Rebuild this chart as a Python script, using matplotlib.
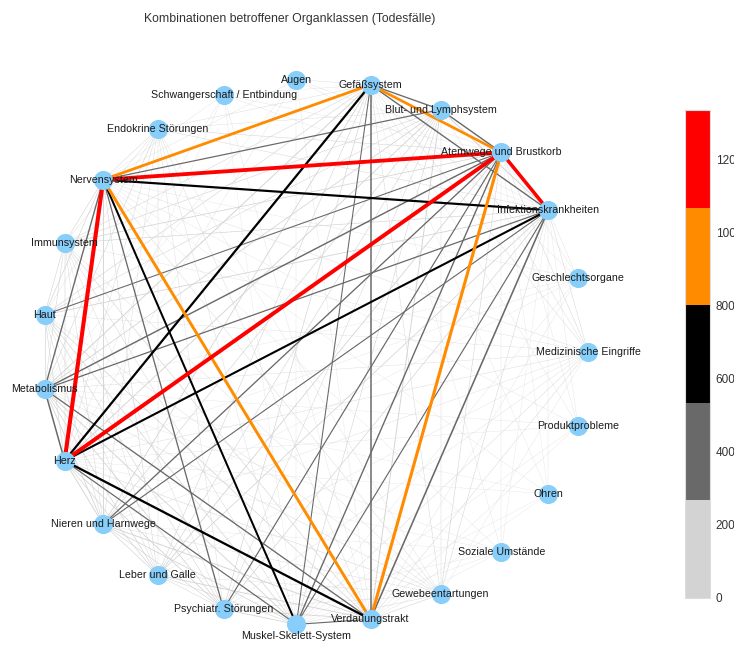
import numpy as np
import matplotlib
matplotlib.use("Agg")
import matplotlib.pyplot as plt
from matplotlib.colors import ListedColormap, Normalize
from matplotlib.cm import ScalarMappable

plt.rcParams['font.family'] = ['Liberation Sans', 'DejaVu Sans']

# Nodes in circular-layout order (counter-clockwise, starting at 3 o'clock)
nodes = ["Medizinische Eingriffe", "Geschlechtsorgane", "Infektionskrankheiten",
         "Atemwege und Brustkorb", "Blut- und Lymphsystem", "Gefäßsystem", "Augen",
         "Schwangerschaft / Entbindung", "Endokrine Störungen", "Nervensystem",
         "Immunsystem", "Haut", "Metabolismus", "Herz", "Nieren und Harnwege",
         "Leber und Galle", "Psychiatr. Störungen", "Muskel-Skelett-System",
         "Verdauungstrakt", "Gewebeentartungen", "Soziale Umstände", "Ohren",
         "Produktprobleme"]

NE, GO, IK, AB, BL, GS, AU, SE, ES, NS, IM, HA, ME, HE, NH, LG, PS, MS, VT, GE, SU, OH, PP = nodes

# Strong combinations (estimated counts)
strong_src = [NS, NS, HE, AB, NS, NS, GS, AB, GS, NS, NS, HE, HE]
strong_dst = [HE, AB, AB, IK, GS, VT, AB, VT, HE, IK, MS, IK, VT]
strong_w   = [1335, 1250, 1290, 1150, 900, 950, 870, 1000, 700, 680, 620, 650, 720]

# Medium combinations
mid_src = [GS, GS, GS, BL, NS, NS, NS, HE, HE, ME, ME, ME, IK, IK, AB, GS, MS,
           AB, AB, HA, NH]
mid_dst = [VT, BL, IK, AB, BL, ME, PS, ME, MS, AB, IK, VT, VT, MS, MS, MS, VT,
           NH, PS, AB, IK]
mid_w   = [450, 380, 400, 420, 350, 400, 380, 450, 350, 420, 360, 380, 480, 330,
           400, 300, 320, 380, 340, 300, 300]

# Weak combinations
weak_src = [NS]*13 + [HE]*15 + [AB]*11 + [IK]*15 + [GS]*15 + [VT]*15 + [ME]*16 + \
           [MS]*15 + [NH]*10 + [PS]*8 + [BL]*6 + [HA]*5 + [IM]*4 + [ES]*2 + [LG]*2 + [GE]
weak_dst = [IM, HA, ES, LG, GE, NE, SE, AU, GO, PP, OH, SU, NH,
            IM, HA, ES, BL, NH, LG, PS, GE, NE, AU, SE, GO, PP, OH, SU,
            IM, ES, LG, GE, NE, AU, SE, GO, PP, OH, SU,
            BL, IM, HA, ES, PS, LG, GE, NE, GO, PP, OH, SU, AU, SE, NH,
            ME, IM, HA, ES, NH, LG, PS, GE, NE, AU, SE, GO, PP, OH, SU,
            BL, IM, HA, ES, NH, LG, PS, GE, NE, AU, SE, GO, PP, OH, SU,
            BL, IM, HA, ES, NH, LG, PS, MS, GE, NE, AU, SE, GO, PP, OH, SU,
            BL, IM, HA, ES, NH, LG, PS, GE, NE, AU, SE, GO, PP, OH, SU,
            BL, IM, HA, ES, LG, PS, GE, NE, SU, GO,
            BL, IM, HA, ES, LG, GE, NE, SU,
            IM, HA, ES, LG, GE, NE,
            IM, ES, LG, GE, NE,
            ES, LG, GE, NE,
            LG, GE,
            GE, NE,
            NE]
weak_w = [120, 150, 80, 100, 60, 50, 20, 30, 15, 15, 10, 10, 230,
          100, 120, 70, 220, 240, 150, 200, 80, 60, 20, 15, 15, 15, 10, 10,
          180, 100, 200, 120, 90, 25, 20, 20, 20, 10, 15,
          250, 150, 200, 80, 150, 180, 90, 80, 30, 15, 10, 10, 15, 15, 180,
          250, 90, 120, 60, 200, 120, 150, 80, 60, 40, 15, 10, 15, 10, 10,
          240, 120, 150, 60, 230, 220, 200, 120, 70, 15, 20, 15, 15, 10, 15,
          180, 100, 150, 120, 200, 150, 180, 220, 60, 50, 10, 10, 10, 10, 5, 10,
          120, 80, 150, 50, 180, 100, 200, 70, 60, 15, 10, 10, 15, 5, 10,
          130, 80, 100, 60, 150, 120, 50, 40, 5, 10,
          90, 60, 110, 50, 80, 40, 30, 15,
          120, 100, 50, 120, 60, 40,
          120, 40, 70, 40, 30,
          40, 60, 40, 25,
          40, 25,
          40, 20,
          15]

src = strong_src + mid_src + weak_src
dst = strong_dst + mid_dst + weak_dst
wts = strong_w + mid_w + weak_w

edge_colors = ['lightgray', 'dimgray', 'black', 'darkorange', 'red']
cmap = ListedColormap(edge_colors)
norm = Normalize(vmin=0, vmax=max(wts))

# circular layout
n = len(nodes)
ang = 2 * np.pi * np.arange(n) / n
pos = {name: (np.cos(a), np.sin(a)) for name, a in zip(nodes, ang)}

W, H = 734, 645
fig = plt.figure(figsize=(W / 100, H / 100), dpi=100)
ax = fig.add_axes([0, 0, 1, 1])
cx, cy, r = 315, 352, 273
ax.set_xlim(-cx / r, (W - cx) / r)
ax.set_ylim(-(H - cy) / r, cy / r)
ax.axis('off')

order = np.argsort(wts)
for i in order:
    (x1, y1), (x2, y2) = pos[src[i]], pos[dst[i]]
    w = wts[i]
    ax.plot([x1, x2], [y1, y2], color=cmap(norm(w)), lw=0.15 + w / 480,
            solid_capstyle='round', zorder=1)

xs = [pos[nm][0] for nm in nodes]
ys = [pos[nm][1] for nm in nodes]
ax.scatter(xs, ys, s=190, color='#87CEFA', zorder=2, linewidths=0)
for nm in nodes:
    dy = -12 / r if nm == MS else 0.0
    ax.text(pos[nm][0], pos[nm][1] + dy, nm, ha='center', va='center', fontsize=7.7,
            color='#1a1a1a', zorder=3)

fig.text(290 / W, 1 - 19 / H, "Kombinationen betroffener Organklassen (Todesfälle)",
         ha='center', va='center', fontsize=8.8, color='#333333')

cax = fig.add_axes([685 / W, 47 / H, 25 / W, 488 / H])
sm = ScalarMappable(norm=norm, cmap=cmap)
cb = fig.colorbar(sm, cax=cax, ticks=[0, 200, 400, 600, 800, 1000, 1200])
cb.outline.set_edgecolor('#dddddd')
cb.outline.set_linewidth(0.8)
cax.tick_params(length=0, labelsize=8.5, labelcolor='#333333', pad=4)

fig.savefig("out.png", dpi=100)
